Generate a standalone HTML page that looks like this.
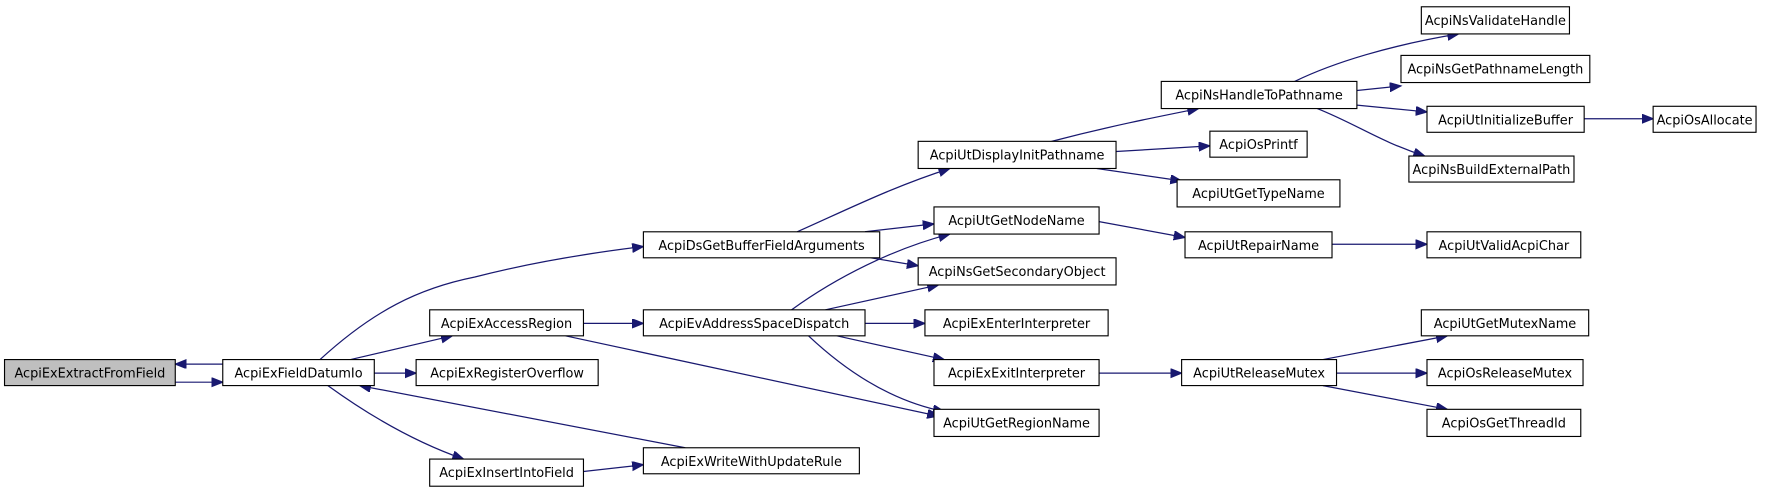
<!DOCTYPE html>
<html><head><meta charset="utf-8"><style>
html,body{margin:0;padding:0;background:#fff;width:1773px;height:493px;overflow:hidden}
svg{display:block}
text{font-family:"DejaVu Sans","Liberation Sans",sans-serif;font-size:11.4px;fill:#000}
.b{fill:#fff;stroke:#000;stroke-width:1}
.e{fill:none;stroke:#191970;stroke-width:1.1}
</style></head><body>
<svg width="1773" height="493" viewBox="0 0 1568 436" xmlns="http://www.w3.org/2000/svg">
<defs><marker id="a" markerUnits="userSpaceOnUse" markerWidth="12" markerHeight="10" refX="10" refY="4" orient="auto"><path d="M0,0 L10,4 L0,8 Z" fill="#191970" stroke="#191970"/></marker></defs>
<g class="e" marker-end="url(#a)">
<path d="M197,322 L155,322"/>
<path d="M155,338 L197,338"/>
<path d="M283,318 C330,275 370,255 420,245 C470,232 520,224 569,218"/>
<path d="M310,318 L400,297"/>
<path d="M331,330 L368,330"/>
<path d="M290,341 C330,370 370,392 410,406"/>
<path d="M606,396 L318,341"/>
<path d="M516,417 L569,411"/>
<path d="M516,286 L569,286"/>
<path d="M500,297 L830,368"/>
<path d="M705,205 C750,185 790,165 840,149"/>
<path d="M765,205 L826,198"/>
<path d="M770,228 L812,235"/>
<path d="M700,274 C740,245 790,220 840,207"/>
<path d="M730,274 L830,252"/>
<path d="M765,286 L818,286"/>
<path d="M740,297 L835,318"/>
<path d="M715,297 C750,330 790,355 835,364"/>
<path d="M930,125 C980,112 1020,104 1060,96"/>
<path d="M987,134 L1070,129"/>
<path d="M970,149 L1045,160"/>
<path d="M972,196 L1048,210"/>
<path d="M1178,216 L1262,216"/>
<path d="M972,330 L1045,330"/>
<path d="M1170,318 L1280,297"/>
<path d="M1182,330 L1262,330"/>
<path d="M1170,341 L1280,362"/>
<path d="M1145,72 C1180,55 1230,40 1290,30"/>
<path d="M1200,80 L1239,76"/>
<path d="M1200,93 L1262,99"/>
<path d="M1165,96 C1200,110 1220,125 1260,138"/>
<path d="M1401,105 L1462,105"/>
</g>
<g>
<rect x="4" y="318" width="151" height="23" fill="#bfbfbf" stroke="#000"/><text x="79.5" y="334" text-anchor="middle">AcpiExExtractFromField</text>
<rect class="b" x="197" y="318" width="134" height="23"/><text x="264" y="334" text-anchor="middle">AcpiExFieldDatumIo</text>
<rect class="b" x="380" y="274" width="136" height="23"/><text x="448" y="290" text-anchor="middle">AcpiExAccessRegion</text>
<rect class="b" x="368" y="318" width="161" height="23"/><text x="448.5" y="334" text-anchor="middle">AcpiExRegisterOverflow</text>
<rect class="b" x="380" y="406" width="136" height="24"/><text x="448" y="422" text-anchor="middle">AcpiExInsertIntoField</text>
<rect class="b" x="569" y="396" width="191" height="23"/><text x="664.5" y="412" text-anchor="middle">AcpiExWriteWithUpdateRule</text>
<rect class="b" x="569" y="205" width="209" height="23"/><text x="673.5" y="221" text-anchor="middle">AcpiDsGetBufferFieldArguments</text>
<rect class="b" x="569" y="274" width="196" height="23"/><text x="667" y="290" text-anchor="middle">AcpiEvAddressSpaceDispatch</text>
<rect class="b" x="812" y="125" width="175" height="24"/><text x="899.5" y="141" text-anchor="middle">AcpiUtDisplayInitPathname</text>
<rect class="b" x="826" y="183" width="146" height="24"/><text x="899" y="199" text-anchor="middle">AcpiUtGetNodeName</text>
<rect class="b" x="812" y="228" width="175" height="24"/><text x="899.5" y="244" text-anchor="middle">AcpiNsGetSecondaryObject</text>
<rect class="b" x="818" y="274" width="162" height="23"/><text x="899" y="290" text-anchor="middle">AcpiExEnterInterpreter</text>
<rect class="b" x="826" y="318" width="146" height="23"/><text x="899" y="334" text-anchor="middle">AcpiExExitInterpreter</text>
<rect class="b" x="826" y="362" width="146" height="24"/><text x="899" y="378" text-anchor="middle">AcpiUtGetRegionName</text>
<rect class="b" x="1027" y="72" width="173" height="24"/><text x="1113.5" y="88" text-anchor="middle">AcpiNsHandleToPathname</text>
<rect class="b" x="1070" y="116" width="86" height="23"/><text x="1113" y="132" text-anchor="middle">AcpiOsPrintf</text>
<rect class="b" x="1041" y="159" width="144" height="24"/><text x="1113" y="175" text-anchor="middle">AcpiUtGetTypeName</text>
<rect class="b" x="1048" y="205" width="130" height="23"/><text x="1113" y="221" text-anchor="middle">AcpiUtRepairName</text>
<rect class="b" x="1045" y="318" width="137" height="23"/><text x="1113.5" y="334" text-anchor="middle">AcpiUtReleaseMutex</text>
<rect class="b" x="1257" y="6" width="131" height="24"/><text x="1322.5" y="22" text-anchor="middle">AcpiNsValidateHandle</text>
<rect class="b" x="1239" y="49" width="167" height="24"/><text x="1322.5" y="65" text-anchor="middle">AcpiNsGetPathnameLength</text>
<rect class="b" x="1262" y="94" width="139" height="23"/><text x="1331.5" y="110" text-anchor="middle">AcpiUtInitializeBuffer</text>
<rect class="b" x="1246" y="138" width="146" height="23"/><text x="1319" y="154" text-anchor="middle">AcpiNsBuildExternalPath</text>
<rect class="b" x="1462" y="94" width="91" height="23"/><text x="1507.5" y="110" text-anchor="middle">AcpiOsAllocate</text>
<rect class="b" x="1262" y="205" width="136" height="23"/><text x="1330" y="221" text-anchor="middle">AcpiUtValidAcpiChar</text>
<rect class="b" x="1257" y="274" width="148" height="23"/><text x="1331" y="290" text-anchor="middle">AcpiUtGetMutexName</text>
<rect class="b" x="1262" y="318" width="138" height="23"/><text x="1331" y="334" text-anchor="middle">AcpiOsReleaseMutex</text>
<rect class="b" x="1262" y="362" width="136" height="24"/><text x="1330" y="378" text-anchor="middle">AcpiOsGetThreadId</text>
</g>
</svg>
</body></html>
